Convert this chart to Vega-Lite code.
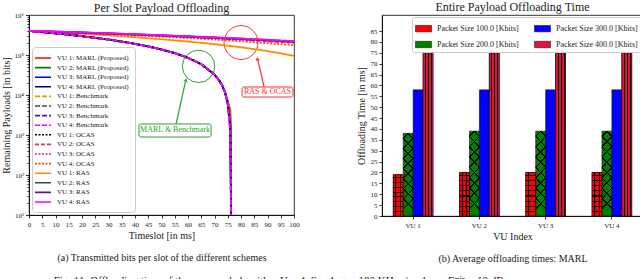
{
"$schema":"https://vega.github.io/schema/vega-lite/v6.json",
"background":"white",
"padding":{"left":0,"top":0,"right":0,"bottom":0},
"config":{
  "font":"Liberation Serif",
  "view":{"stroke":"black","strokeWidth":0.8},
  "axis":{"labelFont":"Liberation Serif","titleFont":"Liberation Serif","labelFontSize":7,"titleFontSize":10,"titleFontWeight":"normal","labelColor":"#222","titleColor":"#222","domainColor":"black","tickColor":"black","tickSize":3,"labelPadding":2,"grid":false,"domainWidth":0.8,"tickWidth":0.8,"labelOverlap":false},
  "legend":{"labelFont":"Liberation Serif","labelColor":"#222"},
  "title":{"font":"Liberation Serif","fontSize":12,"fontWeight":"normal","color":"#222","frame":"group"}
},
"resolve":{"scale":{"color":"independent","strokeDash":"independent"},"legend":{"color":"independent","strokeDash":"independent"}},
"title":{"text":"Fig. 11: Offloading time of the proposed algorithm U = 4, S = 4, ω = 180 KHz, ϕ = 1 ms, Γᵐⁱⁿ = 10 dB.","orient":"bottom","anchor":"start","frame":"bounds","dx":53,"fontSize":11,"offset":12},
"spacing":55,
"hconcat":[
{
 "width":265,"height":200,
 "title":{"text":"Per Slot Payload Offloading","frame":"group","offset":-4},
 "layer":[
  {"data":{"values":[{}]},"mark":{"type":"point","shape":"circle","size":1050,"filled":false,"stroke":"#2ca02c","strokeWidth":1,"opacity":1},"encoding":{"x":{"datum":64,"axis":{"values":[0,5,10,15,20,25,30,35,40,45,50,55,60,65,70,75,80,85,90,95,100]}},"y":{"datum":52000}}},
  {"data":{"values":[{}]},"mark":{"type":"point","shape":"circle","size":1150,"filled":false,"stroke":"#ff3030","strokeWidth":1,"opacity":1},"encoding":{"x":{"datum":80,"axis":{"values":[0,5,10,15,20,25,30,35,40,45,50,55,60,65,70,75,80,85,90,95,100]}},"y":{"datum":205000}}},
  {"data":{"values":[{}]},"mark":{"type":"rule","stroke":"#2ca02c","strokeWidth":1.2},"encoding":{"x":{"datum":55.5,"axis":{"values":[0,5,10,15,20,25,30,35,40,45,50,55,60,65,70,75,80,85,90,95,100]}},"y":{"datum":1880},"x2":{"datum":59},"y2":{"datum":21000}}},
  {"data":{"values":[{}]},"mark":{"type":"point","shape":"triangle-up","size":18,"filled":true,"color":"#2ca02c","angle":13,"opacity":1},"encoding":{"x":{"datum":59.2,"axis":{"values":[0,5,10,15,20,25,30,35,40,45,50,55,60,65,70,75,80,85,90,95,100]}},"y":{"datum":23700}}},
  {"data":{"values":[{}]},"mark":{"type":"rule","stroke":"#ff3030","strokeWidth":1.2},"encoding":{"x":{"datum":88.7,"axis":{"values":[0,5,10,15,20,25,30,35,40,45,50,55,60,65,70,75,80,85,90,95,100]}},"y":{"datum":15850},"x2":{"datum":86.4},"y2":{"datum":72000}}},
  {"data":{"values":[{}]},"mark":{"type":"point","shape":"triangle-up","size":18,"filled":true,"color":"#ff3030","angle":-12,"opacity":1},"encoding":{"x":{"datum":86.2,"axis":{"values":[0,5,10,15,20,25,30,35,40,45,50,55,60,65,70,75,80,85,90,95,100]}},"y":{"datum":80000}}},
  {
   "data":{"values":[
    {"t":0,"m1":400000,"m2":400000,"m3":400000,"m4":400000,"b1":400000,"b2":400000,"b3":400000,"b4":400000,"o1":400000,"o2":400000,"o3":400000,"o4":400000,"r1":400000,"r2":400000,"r3":400000,"r4":400000},
    {"t":5,"m1":373800,"m2":373800,"m3":373800,"m4":373800,"b1":373800,"b2":373800,"b3":373800,"b4":373800,"r4":397500,"r3":394500,"r2":391500,"o1":388500,"o3":386500,"o2":390500,"o4":388000,"r1":385000},
    {"t":10,"m1":347500,"m2":347500,"m3":347500,"m4":347500,"b1":347500,"b2":347500,"b3":347500,"b4":347500,"r4":386500,"r3":383500,"r2":380500,"o1":377500,"o3":375500,"o2":380000,"o4":378000,"r1":369000},
    {"t":15,"m1":321300,"m2":321300,"m3":321300,"m4":321300,"b1":321300,"b2":321300,"b3":321300,"b4":321300,"r4":378000,"r3":375000,"r2":372000,"o1":369000,"o3":367000,"o2":371000,"o4":366000,"r1":354500},
    {"t":20,"m1":295000,"m2":295000,"m3":295000,"m4":295000,"b1":295000,"b2":295000,"b3":295000,"b4":295000,"r4":369500,"r3":366500,"r2":363500,"o1":360500,"o3":358500,"o2":360500,"o4":355500,"r1":339000},
    {"t":25,"m1":268800,"m2":268800,"m3":268800,"m4":268800,"b1":268800,"b2":268800,"b3":268800,"b4":268800,"r4":359000,"r3":356000,"r2":353000,"o1":350000,"o3":348000,"o2":350500,"o4":343000,"r1":323500},
    {"t":30,"m1":242500,"m2":242500,"m3":242500,"m4":242500,"b1":242500,"b2":242500,"b3":242500,"b4":242500,"r4":351000,"r3":348000,"r2":345000,"o1":342000,"o3":340000,"o2":341000,"o4":333000,"r1":308500},
    {"t":35,"m1":216300,"m2":216300,"m3":216300,"m4":216300,"b1":216300,"b2":216300,"b3":216300,"b4":216300,"r4":341000,"r3":338000,"r2":335000,"o1":332000,"o3":330000,"o2":330000,"o4":321000,"r1":293000},
    {"t":40,"m1":190000,"m2":190000,"m3":190000,"m4":190000,"b1":190000,"b2":190000,"b3":190000,"b4":190000,"r4":332500,"r3":329500,"r2":326500,"o1":323500,"o3":321500,"o2":320500,"o4":310500,"r1":278000},
    {"t":45,"m1":163800,"m2":163800,"m3":163800,"m4":163800,"b1":163800,"b2":163800,"b3":163800,"b4":163800,"r4":322000,"r3":319000,"r2":316000,"o1":313000,"o3":311000,"o2":310000,"o4":298000,"r1":262500},
    {"t":50,"m1":137500,"m2":137500,"m3":137500,"m4":137500,"b1":137500,"b2":137500,"b3":137500,"b4":137500,"r4":314000,"r3":311000,"r2":308000,"o1":305000,"o3":303000,"o2":300500,"o4":288000,"r1":247500},
    {"t":55,"m1":111300,"m2":111300,"m3":111300,"m4":111300,"b1":111300,"b2":111300,"b3":111300,"b4":111300,"r4":303500,"r3":300500,"r2":297500,"o1":294500,"o3":292500,"o2":290000,"o4":276000,"r1":232000},
    {"t":60,"m1":85000,"m2":85000,"m3":85000,"m4":85000,"b1":85000,"b2":85000,"b3":85000,"b4":85000,"r4":295500,"r3":292500,"r2":289500,"o1":286500,"o3":284500,"o2":281000,"o4":265500,"r1":217000},
    {"t":65,"m1":58800,"m2":58800,"m3":58800,"m4":58800,"b1":58800,"b2":58800,"b3":58800,"b4":58800,"r4":285000,"r3":282000,"r2":279000,"o1":276000,"o3":274000,"o2":270000,"o4":253000,"r1":201500},
    {"t":70,"m1":32500,"m2":32500,"m3":32500,"m4":32500,"b1":32500,"b2":32500,"b3":32500,"b4":32500,"r4":277000,"r3":274000,"r2":271000,"o1":268000,"o3":266000,"o2":260500,"o4":243000,"r1":186500},
    {"t":72,"m1":22000,"m2":22000,"m3":22000,"m4":22000,"b1":22000,"b2":22000,"b3":22000,"b4":22000},
    {"t":73,"m1":16800,"m2":16800,"m3":16800,"m4":16800,"b1":16800,"b2":16800,"b3":16800,"b4":16800},
    {"t":74,"m1":11500,"m2":11500,"m3":11500,"m4":11500,"b1":11500,"b2":11500,"b3":11500,"b4":11500},
    {"t":75,"m1":7000,"m2":6500,"m3":6200,"m4":6000,"b1":6800,"b2":6400,"b3":6100,"b4":6000,"r4":267000,"r3":264000,"r2":261000,"o1":258000,"o3":256000,"o2":250000,"o4":231000,"r1":171000},
    {"t":76,"m1":4000,"m2":2500,"m3":1800,"m4":1200,"b1":3000,"b2":2000,"b3":1500,"b4":1000},
    {"t":77,"m1":0.000001,"m2":0.000001,"m3":0.000001,"m4":0.000001,"b1":0.000001,"b2":0.000001,"b3":0.000001,"b4":0.000001},
    {"t":80,"r4":259000,"r3":256000,"r2":253000,"o1":250000,"o3":248000,"o2":241000,"o4":220500,"r1":156000},
    {"t":85,"r4":248500,"r3":245500,"r2":242500,"o1":239500,"o3":237500,"o2":230000,"o4":208000,"r1":140000},
    {"t":90,"r4":240500,"r3":237500,"r2":234500,"o1":231500,"o3":229500,"o2":220500,"o4":198000,"r1":125500},
    {"t":95,"r4":230000,"r3":227000,"r2":224000,"o1":221000,"o3":219000,"o2":210000,"o4":186000,"r1":110000},
    {"t":100,"r4":222000,"r3":219000,"r2":216000,"o1":213000,"o3":211000,"o2":201000,"o4":176000,"r1":95000}
   ]},
   "transform":[
    {"fold":["r1","o2","o4","o1","o3","r2","r3","m1","m2","m3","m4","b1","b2","b3","b4","r4"],"as":["key","v"]},
    {"filter":"isValid(datum.v)"}
   ],
   "mark":{"type":"line","strokeWidth":1.8,"clip":true},
   "encoding":{
    "x":{"field":"t","type":"quantitative","scale":{"domain":[0,100],"nice":false},
         "axis":{"values":[0,5,10,15,20,25,30,35,40,45,50,55,60,65,70,75,80,85,90,95,100],"labelOverlap":false,"labelBound":false,"labelFlush":false,"title":["Timeslot [in ms]","(a) Transmitted bits per slot of the different schemes"],"titleLineHeight":22,"titlePadding":3}},
    "y":{"field":"v","type":"quantitative","scale":{"type":"log","domain":[10,1000000],"nice":false},
         "axis":{"values":[10,20,30,40,50,60,70,80,90,100,200,300,400,500,600,700,800,900,1000,2000,3000,4000,5000,6000,7000,8000,9000,10000,20000,30000,40000,50000,60000,70000,80000,90000,100000,200000,300000,400000,500000,600000,700000,800000,900000,1000000],
                 "labelExpr":"abs(log(datum.value)/LN10-round(log(datum.value)/LN10))<0.001 ? '10'+['⁰','¹','²','³','⁴','⁵','⁶'][round(log(datum.value)/LN10)] : ''",
                 "labelOverlap":false,
                 "tickSize":{"condition":{"test":"abs(log(datum.value)/LN10-round(log(datum.value)/LN10))<0.001","value":3.5},"value":2},
                 "title":"Remaining Payloads [in bits]","titlePadding":3}},
    "color":{"field":"key","type":"nominal",
             "scale":{"domain":["m1","m2","m3","m4","b1","b2","b3","b4","o1","o2","o3","o4","r1","r2","r3","r4"],
                      "range":["#ff0000","#008000","#0000ff","#000080","#ff8c00","#2f4f4f","#551a8b","#ff00ff","#000000","#e0305a","#9932cc","#ff4500","#ff8c00","#2f4f4f","#551a8b","#ff00ff"]},
             "legend":{"title":null,"orient":"bottom-left","offset":3,"fillColor":"white","strokeColor":"#cccccc","cornerRadius":3,"padding":6,"rowPadding":0.6,"labelFontSize":7,"symbolType":"M-2,0H2","symbolSize":64,"symbolStrokeWidth":1.6,"labelOffset":9,
                       "labelExpr":"({'m1':'VU 1: MARL (Proposed)','m2':'VU 2: MARL (Proposed)','m3':'VU 3: MARL (Proposed)','m4':'VU 4: MARL (Proposed)','b1':'VU 1: Benchmark','b2':'VU 2: Benchmark','b3':'VU 3: Benchmark','b4':'VU 4: Benchmark','o1':'VU 1: OCAS','o2':'VU 2: OCAS','o3':'VU 3: OCAS','o4':'VU 4: OCAS','r1':'VU 1: RAS','r2':'VU 2: RAS','r3':'VU 3: RAS','r4':'VU 4: RAS'})[datum.value]"}},
    "strokeDash":{"field":"key","type":"nominal",
             "scale":{"domain":["m1","m2","m3","m4","b1","b2","b3","b4","o1","o2","o3","o4","r1","r2","r3","r4"],
                      "range":[[1,0],[1,0],[1,0],[1,0],[5,2],[5,2],[5,2],[5,2],[2,1.5],[4,2],[2,1.5],[2,1.5],[1,0],[1,0],[1,0],[1,0]]},
             "legend":{"title":null,"orient":"bottom-left","offset":3,"fillColor":"white","strokeColor":"#cccccc","cornerRadius":3,"padding":6,"rowPadding":0.6,"labelFontSize":7,"symbolType":"M-2,0H2","symbolSize":64,"symbolStrokeWidth":1.6,"labelOffset":9,
                       "labelExpr":"({'m1':'VU 1: MARL (Proposed)','m2':'VU 2: MARL (Proposed)','m3':'VU 3: MARL (Proposed)','m4':'VU 4: MARL (Proposed)','b1':'VU 1: Benchmark','b2':'VU 2: Benchmark','b3':'VU 3: Benchmark','b4':'VU 4: Benchmark','o1':'VU 1: OCAS','o2':'VU 2: OCAS','o3':'VU 3: OCAS','o4':'VU 4: OCAS','r1':'VU 1: RAS','r2':'VU 2: RAS','r3':'VU 3: RAS','r4':'VU 4: RAS'})[datum.value]"}}
   }
  },
  {"data":{"values":[{}]},"mark":{"type":"rect","fill":"white","stroke":"#2ca02c","strokeWidth":1,"cornerRadius":2},"encoding":{"x":{"datum":41.5,"axis":{"values":[0,5,10,15,20,25,30,35,40,45,50,55,60,65,70,75,80,85,90,95,100]}},"x2":{"datum":68.7},"y":{"datum":1884},"y2":{"datum":891}}},
  {"data":{"values":[{}]},"mark":{"type":"text","text":"MARL & Benchmark","color":"#2ca02c","fontSize":8,"font":"Liberation Serif"},"encoding":{"x":{"datum":55.1,"axis":{"values":[0,5,10,15,20,25,30,35,40,45,50,55,60,65,70,75,80,85,90,95,100]}},"y":{"datum":1300}}},
  {"data":{"values":[{}]},"mark":{"type":"rect","fill":"white","stroke":"#ff3030","strokeWidth":1,"cornerRadius":2},"encoding":{"x":{"datum":80.4,"axis":{"values":[0,5,10,15,20,25,30,35,40,45,50,55,60,65,70,75,80,85,90,95,100]}},"x2":{"datum":99.6},"y":{"datum":15850},"y2":{"datum":8900}}},
  {"data":{"values":[{}]},"mark":{"type":"text","text":"RAS & OCAS","color":"#ff3030","fontSize":8,"font":"Liberation Serif"},"encoding":{"x":{"datum":90,"axis":{"values":[0,5,10,15,20,25,30,35,40,45,50,55,60,65,70,75,80,85,90,95,100]}},"y":{"datum":11900}}}
 ]
},
{
 "width":261,"height":201,
 "title":{"text":"Entire Payload Offloading Time","frame":"group","offset":1},
 "data":{"values":[
  {"vu":"VU 1","size":"100","time":19},{"vu":"VU 1","size":"200","time":38},{"vu":"VU 1","size":"300","time":58},{"vu":"VU 1","size":"400","time":77},
  {"vu":"VU 2","size":"100","time":20},{"vu":"VU 2","size":"200","time":39},{"vu":"VU 2","size":"300","time":58},{"vu":"VU 2","size":"400","time":77},
  {"vu":"VU 3","size":"100","time":20},{"vu":"VU 3","size":"200","time":39},{"vu":"VU 3","size":"300","time":58},{"vu":"VU 3","size":"400","time":77},
  {"vu":"VU 4","size":"100","time":20},{"vu":"VU 4","size":"200","time":39},{"vu":"VU 4","size":"300","time":58},{"vu":"VU 4","size":"400","time":77}
 ]},
 "encoding":{
  "x":{"field":"vu","type":"nominal","scale":{"paddingInner":0.4,"paddingOuter":0.17},"axis":{"labelAngle":0,"title":["VU Index","(b) Average offloading times: MARL"],"titleLineHeight":22,"titlePadding":3}},
  "xOffset":{"field":"size","type":"nominal","scale":{"domain":["100","200","300","400"]}},
  "y":{"field":"time","type":"quantitative","scale":{"domain":[0,92.4],"nice":false},"axis":{"values":[0,5,10,15,20,25,30,35,40,45,50,55,60,65,70,75,80,85],"title":"Offloading Time [in ms]","titlePadding":4}}
 },
 "layer":[
  {"mark":{"type":"bar","stroke":"black","strokeWidth":0.5},
   "encoding":{"color":{"field":"size","type":"nominal","scale":{"domain":["100","200","300","400"],"range":["#ff0000","#008000","#0000ff","#dc143c"]},
     "legend":{"title":null,"orient":"top-right","offset":2,"columns":2,"columnPadding":14,"fillColor":"white","strokeColor":"#cccccc","cornerRadius":2,"padding":3,"rowPadding":3,"labelFontSize":8,"symbolType":"M-1,-0.4H1V0.4H-1Z","symbolSize":256,"symbolStrokeColor":"black","symbolStrokeWidth":0.5,"labelOffset":5,"labelExpr":"'Packet Size ' + datum.label + '.0 [Kbits]'"}}}},
  {"transform":[{"filter":"datum.size == '100'"}],
   "mark":{"type":"bar","stroke":"black","strokeWidth":0.5,"fill":{"gradient":"linear","x1":0,"y1":0,"x2":1,"y2":0,"stops":[
     {"offset":0,"color":"#ff0000"},{"offset":0.22,"color":"#ff0000"},{"offset":0.22,"color":"black"},{"offset":0.32,"color":"black"},{"offset":0.32,"color":"#ff0000"},
     {"offset":0.68,"color":"#ff0000"},{"offset":0.68,"color":"black"},{"offset":0.78,"color":"black"},{"offset":0.78,"color":"#ff0000"},{"offset":1,"color":"#ff0000"}]}}},
  {"transform":[{"filter":"datum.size == '100'"}],
   "mark":{"type":"bar","strokeWidth":0,"fill":{"gradient":"linear","x1":0,"y1":0,"x2":0,"y2":1,"stops":[
     {"offset":0,"color":"rgba(0,0,0,0)"},{"offset":0.048,"color":"rgba(0,0,0,0)"},{"offset":0.048,"color":"black"},{"offset":0.072,"color":"black"},{"offset":0.072,"color":"rgba(0,0,0,0)"},
     {"offset":0.168,"color":"rgba(0,0,0,0)"},{"offset":0.168,"color":"black"},{"offset":0.192,"color":"black"},{"offset":0.192,"color":"rgba(0,0,0,0)"},
     {"offset":0.288,"color":"rgba(0,0,0,0)"},{"offset":0.288,"color":"black"},{"offset":0.312,"color":"black"},{"offset":0.312,"color":"rgba(0,0,0,0)"},
     {"offset":0.408,"color":"rgba(0,0,0,0)"},{"offset":0.408,"color":"black"},{"offset":0.432,"color":"black"},{"offset":0.432,"color":"rgba(0,0,0,0)"},
     {"offset":0.528,"color":"rgba(0,0,0,0)"},{"offset":0.528,"color":"black"},{"offset":0.552,"color":"black"},{"offset":0.552,"color":"rgba(0,0,0,0)"},
     {"offset":0.648,"color":"rgba(0,0,0,0)"},{"offset":0.648,"color":"black"},{"offset":0.672,"color":"black"},{"offset":0.672,"color":"rgba(0,0,0,0)"},
     {"offset":0.768,"color":"rgba(0,0,0,0)"},{"offset":0.768,"color":"black"},{"offset":0.792,"color":"black"},{"offset":0.792,"color":"rgba(0,0,0,0)"},
     {"offset":0.888,"color":"rgba(0,0,0,0)"},{"offset":0.888,"color":"black"},{"offset":0.912,"color":"black"},{"offset":0.912,"color":"rgba(0,0,0,0)"},
     {"offset":1,"color":"rgba(0,0,0,0)"}]}}},
  {"transform":[{"filter":"datum.size == '200'"}],
   "mark":{"type":"bar","strokeWidth":0,"fill":{"gradient":"linear","x1":0,"y1":0,"x2":0.12,"y2":1,"stops":[
     {"offset":0,"color":"rgba(0,0,0,0)"},{"offset":0.05,"color":"rgba(0,0,0,0)"},{"offset":0.05,"color":"black"},{"offset":0.07,"color":"black"},{"offset":0.07,"color":"rgba(0,0,0,0)"},
     {"offset":0.17,"color":"rgba(0,0,0,0)"},{"offset":0.17,"color":"black"},{"offset":0.19,"color":"black"},{"offset":0.19,"color":"rgba(0,0,0,0)"},
     {"offset":0.29,"color":"rgba(0,0,0,0)"},{"offset":0.29,"color":"black"},{"offset":0.31,"color":"black"},{"offset":0.31,"color":"rgba(0,0,0,0)"},
     {"offset":0.41,"color":"rgba(0,0,0,0)"},{"offset":0.41,"color":"black"},{"offset":0.43,"color":"black"},{"offset":0.43,"color":"rgba(0,0,0,0)"},
     {"offset":0.53,"color":"rgba(0,0,0,0)"},{"offset":0.53,"color":"black"},{"offset":0.55,"color":"black"},{"offset":0.55,"color":"rgba(0,0,0,0)"},
     {"offset":0.65,"color":"rgba(0,0,0,0)"},{"offset":0.65,"color":"black"},{"offset":0.67,"color":"black"},{"offset":0.67,"color":"rgba(0,0,0,0)"},
     {"offset":0.77,"color":"rgba(0,0,0,0)"},{"offset":0.77,"color":"black"},{"offset":0.79,"color":"black"},{"offset":0.79,"color":"rgba(0,0,0,0)"},
     {"offset":0.89,"color":"rgba(0,0,0,0)"},{"offset":0.89,"color":"black"},{"offset":0.91,"color":"black"},{"offset":0.91,"color":"rgba(0,0,0,0)"},
     {"offset":1,"color":"rgba(0,0,0,0)"}]}}},
  {"transform":[{"filter":"datum.size == '200'"}],
   "mark":{"type":"bar","strokeWidth":0,"fill":{"gradient":"linear","x1":1,"y1":0,"x2":0.88,"y2":1,"stops":[
     {"offset":0,"color":"rgba(0,0,0,0)"},{"offset":0.05,"color":"rgba(0,0,0,0)"},{"offset":0.05,"color":"black"},{"offset":0.07,"color":"black"},{"offset":0.07,"color":"rgba(0,0,0,0)"},
     {"offset":0.17,"color":"rgba(0,0,0,0)"},{"offset":0.17,"color":"black"},{"offset":0.19,"color":"black"},{"offset":0.19,"color":"rgba(0,0,0,0)"},
     {"offset":0.29,"color":"rgba(0,0,0,0)"},{"offset":0.29,"color":"black"},{"offset":0.31,"color":"black"},{"offset":0.31,"color":"rgba(0,0,0,0)"},
     {"offset":0.41,"color":"rgba(0,0,0,0)"},{"offset":0.41,"color":"black"},{"offset":0.43,"color":"black"},{"offset":0.43,"color":"rgba(0,0,0,0)"},
     {"offset":0.53,"color":"rgba(0,0,0,0)"},{"offset":0.53,"color":"black"},{"offset":0.55,"color":"black"},{"offset":0.55,"color":"rgba(0,0,0,0)"},
     {"offset":0.65,"color":"rgba(0,0,0,0)"},{"offset":0.65,"color":"black"},{"offset":0.67,"color":"black"},{"offset":0.67,"color":"rgba(0,0,0,0)"},
     {"offset":0.77,"color":"rgba(0,0,0,0)"},{"offset":0.77,"color":"black"},{"offset":0.79,"color":"black"},{"offset":0.79,"color":"rgba(0,0,0,0)"},
     {"offset":0.89,"color":"rgba(0,0,0,0)"},{"offset":0.89,"color":"black"},{"offset":0.91,"color":"black"},{"offset":0.91,"color":"rgba(0,0,0,0)"},
     {"offset":1,"color":"rgba(0,0,0,0)"}]}}},
  {"transform":[{"filter":"datum.size == '400'"}],
   "mark":{"type":"bar","stroke":"black","strokeWidth":0.5,"fill":{"gradient":"linear","x1":0,"y1":0,"x2":1,"y2":0,"stops":[
     {"offset":0,"color":"#dc143c"},{"offset":0.2,"color":"#dc143c"},{"offset":0.2,"color":"black"},{"offset":0.3,"color":"black"},{"offset":0.3,"color":"#dc143c"},
     {"offset":0.5,"color":"#dc143c"},{"offset":0.5,"color":"black"},{"offset":0.6,"color":"black"},{"offset":0.6,"color":"#dc143c"},
     {"offset":0.8,"color":"#dc143c"},{"offset":0.8,"color":"black"},{"offset":0.9,"color":"black"},{"offset":0.9,"color":"#dc143c"},{"offset":1,"color":"#dc143c"}]}}}
 ]
}
]
}
